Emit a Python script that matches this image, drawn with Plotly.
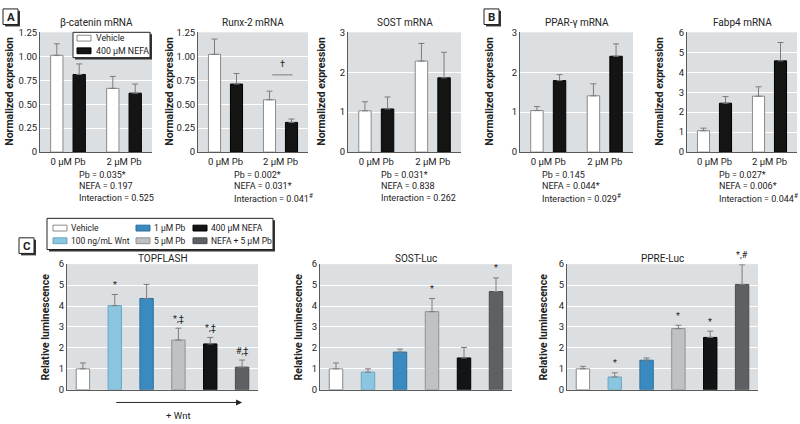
import plotly.graph_objects as go

FONT = "Roboto, Liberation Sans, sans-serif"
W, H = 800, 424

# ---- panels A and B : qPCR, two Pb doses x vehicle / NEFA ----
pb_groups = ["0 µM Pb", "2 µM Pb"]
pair_names = ["Vehicle", "400 µM NEFA"]

bcat_vehicle = [1.01, 0.665]
bcat_vehicle_se = [0.12, 0.125]
bcat_nefa = [0.81, 0.615]
bcat_nefa_se = [0.11, 0.095]

runx_vehicle = [1.02, 0.546]
runx_vehicle_se = [0.16, 0.09]
runx_nefa = [0.71, 0.31]
runx_nefa_se = [0.11, 0.035]

sost_vehicle = [1.035, 2.28]
sost_vehicle_se = [0.225, 0.44]
sost_nefa = [1.08, 1.86]
sost_nefa_se = [0.30, 0.64]

ppar_vehicle = [1.04, 1.41]
ppar_vehicle_se = [0.10, 0.30]
ppar_nefa = [1.79, 2.40]
ppar_nefa_se = [0.15, 0.31]

fabp_vehicle = [1.07, 2.80]
fabp_vehicle_se = [0.13, 0.47]
fabp_nefa = [2.45, 4.57]
fabp_nefa_se = [0.33, 0.92]

mrna_titles = ["β-catenin mRNA", "Runx-2 mRNA", "SOST mRNA", "PPAR-γ mRNA", "Fabp4 mRNA"]
mrna_stats = [
    ["Pb = 0.035*", "NEFA = 0.197", "Interaction = 0.525"],
    ["Pb = 0.002*", "NEFA = 0.031*", "Interaction = 0.041<sup>#</sup>"],
    ["Pb = 0.031*", "NEFA = 0.838", "Interaction = 0.262"],
    ["Pb = 0.145", "NEFA = 0.044*", "Interaction = 0.029<sup>#</sup>"],
    ["Pb = 0.027*", "NEFA = 0.006*", "Interaction = 0.044<sup>#</sup>"],
]
small_ticks = [0, 0.25, 0.5, 0.75, 1.0, 1.25]
small_ticktext = ["0", "0.25", "0.50", "0.75", "1.00", "1.25"]
three_ticks = [0, 1, 2, 3]
six_ticks = [0, 1, 2, 3, 4, 5, 6]

# ---- panel C : luciferase reporters ----
c_groups = ["Vehicle", "100 ng/mL Wnt", "1 µM Pb", "5 µM Pb", "400 µM NEFA", "NEFA + 5 µM Pb"]
c_colors = ["#ffffff", "#8bc6e0", "#3a8ac0", "#bfc1c3", "#131415", "#5e6163"]
c_lines = ["#8a8a8a", "#6aa6c2", "#2c6f9e", "#8f9193", "#000000", "#4a4c4e"]

topflash = [1.0, 4.02, 4.36, 2.375, 2.19, 1.08]
topflash_se = [0.28, 0.53, 0.67, 0.565, 0.31, 0.34]
topflash_marks = ["", "*", "", "*,‡", "*,‡", "#,‡"]

sostluc = [1.0, 0.84, 1.80, 3.73, 1.52, 4.69]
sostluc_se = [0.28, 0.16, 0.14, 0.63, 0.50, 0.65]
sostluc_marks = ["", "", "", "*", "", "*"]

ppre = [1.0, 0.61, 1.41, 2.92, 2.50, 5.03]
ppre_se = [0.12, 0.20, 0.11, 0.16, 0.30, 0.94]
ppre_marks = ["", "*", "", "*", "*", "*,#"]

luc_titles = ["TOPFLASH", "SOST-Luc", "PPRE-Luc"]


def px_x(p):
    return p / W


def px_y(p):
    return 1 - p / H


def err(se):
    return dict(type="data", array=se, arrayminus=[0] * len(se), symmetric=False,
                color="#7c7c7c", thickness=1, width=3)


def text(x, y, s, size=9.5, xanchor="center", **kw):
    fig.add_annotation(x=px_x(x), y=px_y(y), xref="paper", yref="paper", text=s,
                       xanchor=xanchor, yanchor="middle", showarrow=False,
                       font=dict(size=size, color="#222"), **kw)


def box(x0, y0, x1, y1, shadow=2):
    # white key / label box with a dark drop shadow on the right and bottom
    fig.add_shape(type="rect", xref="paper", yref="paper",
                  x0=px_x(x0 + shadow), x1=px_x(x1 + shadow), y0=px_y(y1 + shadow), y1=px_y(y0 + shadow),
                  fillcolor="#333", line=dict(width=0), layer="above")
    fig.add_shape(type="rect", xref="paper", yref="paper",
                  x0=px_x(x0), x1=px_x(x1), y0=px_y(y1), y1=px_y(y0),
                  fillcolor="white", line=dict(color="#222", width=1), layer="above")


def swatch(x, y, fill, edge):
    fig.add_shape(type="rect", xref="paper", yref="paper",
                  x0=px_x(x), x1=px_x(x + 14), y0=px_y(y + 6), y1=px_y(y),
                  fillcolor=fill, line=dict(color=edge, width=1), layer="above")


fig = go.Figure()

mrna_sets = [
    (bcat_vehicle, bcat_vehicle_se, bcat_nefa, bcat_nefa_se),
    (runx_vehicle, runx_vehicle_se, runx_nefa, runx_nefa_se),
    (sost_vehicle, sost_vehicle_se, sost_nefa, sost_nefa_se),
    (ppar_vehicle, ppar_vehicle_se, ppar_nefa, ppar_nefa_se),
    (fabp_vehicle, fabp_vehicle_se, fabp_nefa, fabp_nefa_se),
]
pair_fill = ["white", "#141414"]
pair_edge = ["#8a8a8a", "#000000"]
for i, (v, vse, n, nse) in enumerate(mrna_sets):
    ax = "" if i == 0 else str(i + 1)
    for j, (vals, se) in enumerate([(v, vse), (n, nse)]):
        fig.add_trace(go.Bar(
            x=pb_groups, y=vals, name=pair_names[j], xaxis="x" + ax, yaxis="y" + ax,
            marker=dict(color=pair_fill[j], line=dict(color=pair_edge[j], width=1)),
            error_y=err(se), showlegend=False,
        ))

luc_sets = [(topflash, topflash_se, topflash_marks),
            (sostluc, sostluc_se, sostluc_marks),
            (ppre, ppre_se, ppre_marks)]
for i, (vals, se, marks) in enumerate(luc_sets):
    ax = str(i + 6)
    fig.add_trace(go.Bar(
        x=c_groups, y=vals, xaxis="x" + ax, yaxis="y" + ax, width=0.42,
        marker=dict(color=c_colors, line=dict(color=c_lines, width=1)),
        error_y=err(se), showlegend=False,
    ))
    for g, val, s, m in zip(c_groups, vals, se, marks):
        if m:
            fig.add_annotation(x=g, y=(val + s + 0.12) / 6, xref="x" + ax,
                               yref="y" + ax + " domain", text=m, showarrow=False,
                               xanchor="center", yanchor="bottom",
                               font=dict(size=9, color="#222"))

a_x = [(40, 152), (198, 308), (348, 461), (520, 633), (687, 797)]
c_x = [(67, 258), (320, 512), (567, 758)]
a_ylab_x = [10, 170, 322, 490, 660]
c_ylab_x = [45, 298, 543]
a_stats_x = [77, 232, 379, 540, 717]
stats_y = [173, 185, 197]

layout_axes = {}
axis_style = dict(showline=True, linecolor="#5a5a5a", linewidth=1, ticks="",
                  zeroline=False, tickfont=dict(size=9.5, color="#222"))

for i, (x0, x1) in enumerate(a_x):
    k = "" if i == 0 else str(i + 1)
    if i < 2:
        tv, tt, rng = small_ticks, small_ticktext, [0, 1.25]
    elif i < 4:
        tv, tt, rng = three_ticks, [str(t) for t in three_ticks], [0, 3]
    else:
        tv, tt, rng = six_ticks, [str(t) for t in six_ticks], [0, 6]
    layout_axes["xaxis" + k] = dict(axis_style, domain=[px_x(x0), px_x(x1)],
                                    anchor="y" + k, showgrid=False)
    layout_axes["yaxis" + k] = dict(axis_style, domain=[px_y(150), px_y(27)],
                                    anchor="x" + k, range=rng, tickvals=tv, ticktext=tt,
                                    showgrid=True, gridcolor="white", gridwidth=1)
    text((x0 + x1) / 2, 17, mrna_titles[i], size=10)
    text(a_ylab_x[i], 88, "<b>Normalized expression</b>", size=10.5, textangle=-90)
    for line, y in zip(mrna_stats[i], stats_y):
        text(a_stats_x[i], y, line, size=9, xanchor="left")

for i, (x0, x1) in enumerate(c_x):
    k = str(i + 6)
    layout_axes["xaxis" + k] = dict(axis_style, domain=[px_x(x0), px_x(x1)],
                                    anchor="y" + k, showgrid=False, showticklabels=False)
    layout_axes["yaxis" + k] = dict(axis_style, domain=[px_y(394), px_y(265)],
                                    anchor="x" + k, range=[0, 6], tickvals=six_ticks,
                                    showgrid=True, gridcolor="white", gridwidth=1)
    text((x0 + x1) / 2, 259, luc_titles[i], size=10)
    text(c_ylab_x[i], 330, "<b>Relative luminescence</b>", size=10.5, textangle=-90)

# significance bar between the 2 µM Pb bars of Runx-2
sig_y = max(runx_vehicle[1] + runx_vehicle_se[1], runx_nefa[1] + runx_nefa_se[1]) + 0.17
fig.add_shape(type="line", xref="x2", yref="y2", x0=0.85, x1=1.22, y0=sig_y, y1=sig_y,
              line=dict(color="#7c7c7c", width=1))
fig.add_annotation(x=1.03, y=sig_y + 0.04, xref="x2", yref="y2", text="†", showarrow=False,
                   xanchor="center", yanchor="bottom", font=dict(size=9, color="#222"))

# + Wnt arrow under TOPFLASH
fig.add_annotation(x=5, y=px_y(407), xref="x6", yref="paper", ax=1, ay=0,
                   axref="x6", ayref="pixel", showarrow=True, arrowhead=2, arrowsize=1.2,
                   arrowwidth=1, arrowcolor="#222", text="")
fig.add_annotation(x=3, y=px_y(420), xref="x6", yref="paper", text="+ Wnt",
                   xanchor="center", yanchor="middle",
                   showarrow=False, font=dict(size=9.5, color="#222"))

# key for panel A (inside the β-catenin plot)
box(73, 27, 150, 53)
for j, name in enumerate(pair_names):
    swatch(77, 30 + 13 * j, pair_fill[j], pair_edge[j])
    text(94, 33 + 13 * j, name, size=8.8, xanchor="left")

# key for panel C: three columns, two rows
box(47, 218, 273, 250)
key_cols = [53, 136, 193]
for k, name in enumerate(c_groups):
    cx, ry = key_cols[k // 2], 225 + 13 * (k % 2)
    swatch(cx, ry, c_colors[k], c_lines[k])
    text(cx + 16, ry + 3, name, size=8.5, xanchor="left")

# boxed panel letters
for letter, (bx, by) in {"A": (3, 3), "B": (484, 3), "C": (19, 238)}.items():
    box(bx, by, bx + 15, by + 16)
    text(bx + 7.5, by + 8.5, "<b>" + letter + "</b>", size=11.5)

fig.update_layout(
    width=W, height=H,
    margin=dict(l=0, r=0, t=0, b=0),
    paper_bgcolor="white",
    plot_bgcolor="#dcdfe1",
    font=dict(family=FONT, size=9.5, color="#222"),
    barmode="group",
    bargap=0.2,
    bargroupgap=0.45,
    showlegend=False,
    **layout_axes,
)

fig.write_html("out.html", config={"displayModeBar": False},
               post_script="document.body.style.margin='0';")
